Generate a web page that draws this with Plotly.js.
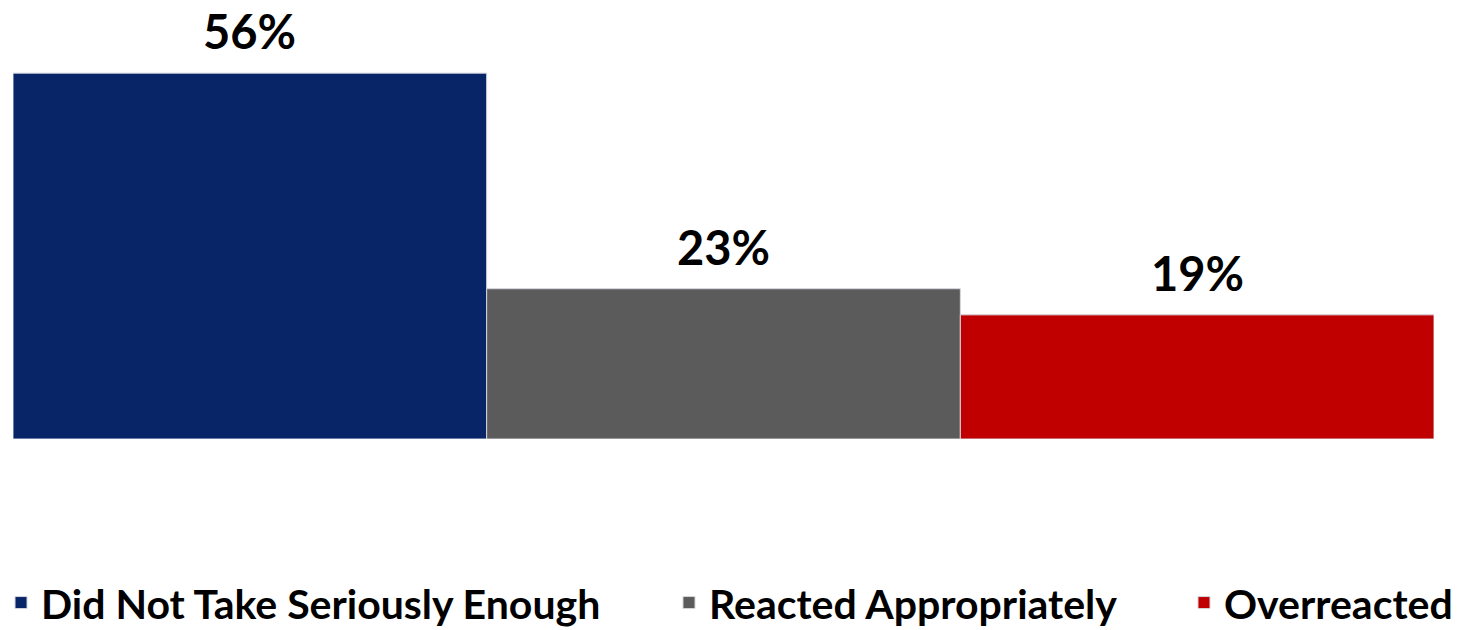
<!DOCTYPE html>
<html>
<head>
<meta charset="utf-8">
<script src="https://cdn.plot.ly/plotly-3.0.1.min.js"></script>
<style>html,body{margin:0;padding:0;background:#fff;}#chart{width:1461px;height:630px;}</style>
</head>
<body>
<div id="chart"></div>
<script>
const categories = ["Did Not Take Seriously Enough", "Reacted Appropriately", "Overreacted"];
const values = [56, 23, 19];
const colors = ["#082567", "#5b5b5b", "#c00000"];
const legendIds = ["legend", "legend2", "legend3"];
const legendX = [0.0007, 0.4579, 0.8104];

const fontFam = "Lato, 'Open Sans', sans-serif";

const traces = categories.map((c, i) => ({
  type: "bar",
  name: c,
  x: [i],
  y: [values[i]],
  width: [1],
  legend: legendIds[i],
  marker: {color: colors[i], line: {color: "#d4d6de", width: 1}},
  hoverinfo: "skip"
}));

const annotations = categories.map((c, i) => ({
  x: i, y: values[i], xref: "x", yref: "y",
  text: values[i] + "%",
  showarrow: false,
  yanchor: "bottom",
  yshift: 13,
  borderpad: 0,
  font: {family: fontFam, size: 47, color: "#000", weight: "bold"}
}));

const layout = {
  width: 1461, height: 630,
  margin: {l: 13, r: 27, t: 47, b: 191, autoexpand: false},
  paper_bgcolor: "#fff", plot_bgcolor: "#fff",
  barmode: "overlay",
  xaxis: {range: [-0.5, 2.5], visible: false, fixedrange: true},
  yaxis: {range: [0, 60], visible: false, fixedrange: true},
  showlegend: true,
  annotations: annotations
};
legendIds.forEach((id, i) => {
  layout[id] = {
    orientation: "h", xref: "container", yref: "container",
    x: legendX[i], xanchor: "left", y: 0.043, yanchor: "middle",
    bgcolor: "rgba(0,0,0,0)", borderwidth: 0,
    font: {family: fontFam, size: 41, color: "#000", weight: "bold"}
  };
});

Plotly.newPlot("chart", traces, layout, {staticPlot: true, displayModeBar: false});
</script>
</body>
</html>
